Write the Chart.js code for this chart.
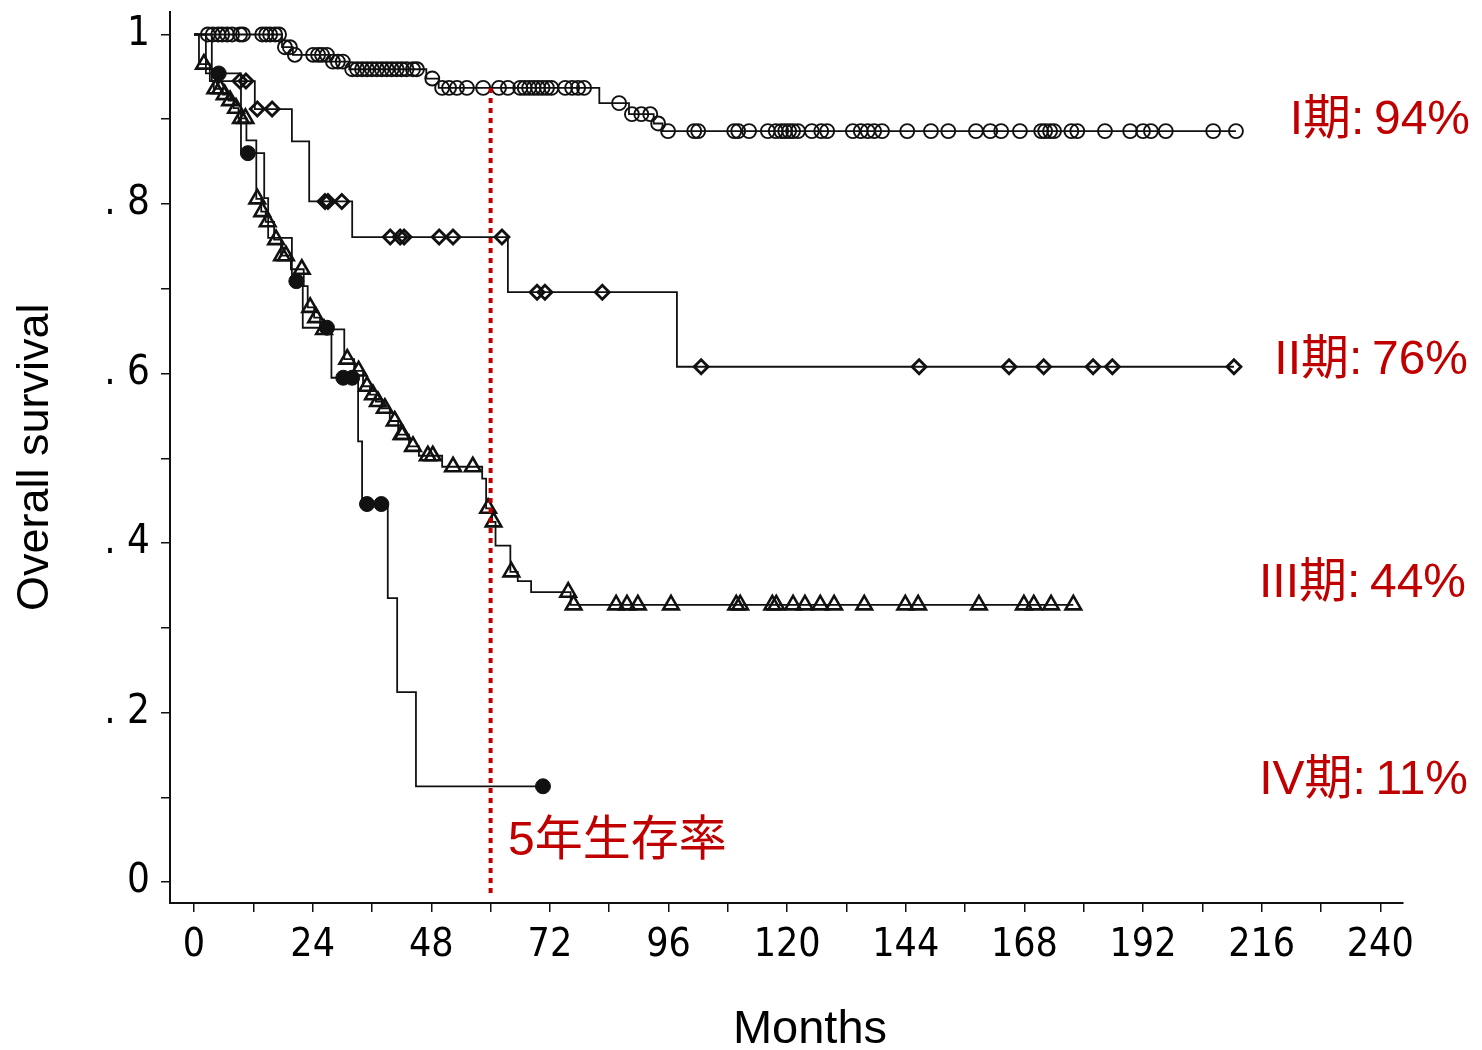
<!DOCTYPE html>
<html lang="ja">
<head>
<meta charset="utf-8">
<title>Overall survival by stage</title>
<script src="https://cdn.jsdelivr.net/npm/chart.js@4.4.1/dist/chart.umd.min.js"></script>
<style>
  html, body { margin: 0; padding: 0; background: #fff; }
  #wrap { width: 1482px; height: 1050px; }
</style>
</head>
<body>
<div id="wrap"><canvas id="survChart" width="1482" height="1050"></canvas></div>
<script>
/* Kaplan-Meier: sopravvivenza globale per stadio (I-IV) */

// asse x (mesi) e asse y (sopravvivenza)
const monthTicks = [0, 12, 24, 36, 48, 60, 72, 84, 96, 108, 120, 132, 144, 156, 168, 180, 192, 204, 216, 228, 240];
const monthLabels = ['0', '', '24', '', '48', '', '72', '', '96', '', '120', '', '144', '', '168', '', '192', '', '216', '', '240'];
const survTicks = [0, 0.1, 0.2, 0.3, 0.4, 0.5, 0.6, 0.7, 0.8, 0.9, 1];
const survLabels = ['0', '', '. 2', '', '. 4', '', '. 6', '', '. 8', '', '1'];

// stadio I: eventi (mese, sopravvivenza dopo l'evento) e censure
const stage1Times = [17.8, 20.0, 27.5, 31.4, 47.0, 49.5, 82.0, 88.0, 93.0, 94.8];
const stage1Surv = [0.985, 0.976, 0.968, 0.959, 0.948, 0.937, 0.919, 0.906, 0.895, 0.886];
const stage1Censor = [2.8, 3.8, 4.9, 5.7, 6.7, 7.7, 9.3, 9.9, 13.8, 14.6, 15.4, 16.4, 17.2, 18.4, 19.4, 20.4,
  24.1, 25.1, 25.9, 26.9, 28.1, 29.1, 30.1, 32.0, 33.0, 34.0, 35.0, 36.0, 37.0, 38.0, 39.0, 40.0, 41.0, 42.0,
  43.0, 44.3, 45.1, 48.2, 50.2, 51.6, 53.2, 55.2, 58.5, 61.7, 63.5, 66.0, 66.9, 67.8, 68.7, 69.6, 70.5, 71.4,
  72.3, 75.1, 76.5, 77.7, 78.9, 86.0, 88.6, 90.5, 92.3, 93.9, 95.9, 101.2, 102.0, 109.3, 110.1, 112.3, 116.1,
  117.7, 118.8, 119.6, 120.4, 121.2, 122.2, 125.0, 126.9, 128.1, 133.3, 134.9, 136.3, 137.6, 139.2, 144.3,
  149.1, 152.6, 158.2, 161.1, 163.3, 167.1, 171.4, 172.2, 173.2, 174.0, 177.5, 178.7, 184.3, 189.4, 192.0,
  193.6, 196.6, 206.2, 210.8];

// stadio II
const stage2Times = [3.6, 12.3, 19.8, 23.3, 32.0, 63.5, 97.7];
const stage2Surv = [0.945, 0.912, 0.874, 0.803, 0.761, 0.696, 0.608];
const stage2Censor = [9.3, 10.5, 12.8, 15.8, 26.5, 27.1, 29.9, 39.7, 41.7, 42.5, 49.6, 52.4, 62.3, 69.4, 71.0,
  82.6, 102.6, 146.7, 164.9, 171.9, 181.9, 185.8, 210.4];

// stadio III
const stage3Times = [1.0, 3.2, 4.0, 5.8, 7.0, 8.0, 9.0, 10.6, 12.6, 13.6, 14.5, 16.2, 17.6, 19.6, 22.2, 23.0,
  24.3, 25.5, 30.4, 32.4, 34.2, 35.6, 36.8, 38.0, 39.6, 41.3, 43.5, 45.5, 50.2, 58.3, 59.1, 60.3, 61.0, 64.0,
  65.5, 68.2, 76.2];
const stage3Surv = [0.965, 0.945, 0.936, 0.929, 0.922, 0.913, 0.901, 0.875, 0.806, 0.791, 0.779, 0.758, 0.739,
  0.723, 0.703, 0.678, 0.666, 0.652, 0.617, 0.603, 0.585, 0.575, 0.567, 0.559, 0.544, 0.528, 0.514, 0.503,
  0.490, 0.476, 0.441, 0.425, 0.397, 0.366, 0.355, 0.342, 0.327];
const stage3Censor = [2.0, 4.3, 5.3, 6.2, 7.3, 8.5, 9.5, 10.4, 12.8, 13.8, 14.9, 16.6, 17.8, 18.6, 21.8, 23.5,
  24.7, 26.3, 31.0, 33.3, 35.0, 36.2, 37.2, 38.6, 40.6, 42.0, 42.2, 44.3, 47.3, 48.3, 52.4, 56.4, 59.5, 60.6,
  64.2, 75.7, 76.8, 85.4, 87.6, 89.8, 96.5, 109.7, 110.5, 117.0, 117.8, 121.2, 123.6, 126.7, 129.5, 135.6,
  143.9, 146.5, 158.8, 167.9, 169.9, 173.4, 177.9];

// stadio IV
const stage4Times = [2.4, 9.5, 14.2, 15.0, 19.8, 22.0, 27.8, 33.2, 34.0, 39.2, 41.1, 44.9];
const stage4Surv = [0.954, 0.860, 0.807, 0.760, 0.709, 0.654, 0.595, 0.520, 0.446, 0.335, 0.224, 0.113];
const stage4Censor = [5.0, 10.9, 20.7, 26.9, 30.2, 32.0, 35.0, 37.9, 70.6];

// linea dei 5 anni
const fiveYearMonth = 60;
const fiveYearTop = 0.937;

const RED = '#c00000';
const INK = '#111';
const TICK_FONT = '"Liberation Sans Narrow", "DejaVu Sans Condensed", "Arial Narrow", sans-serif';
const TEXT_FONT = '"Liberation Sans", Arial, "Noto Sans CJK JP", sans-serif';

function levelAt(times, surv, t) {
  let s = 1;
  times.forEach((tt, i) => { if (tt <= t) s = surv[i]; });
  return s;
}

function stepData(times, surv, censor) {
  const end = Math.max(...censor);
  const pts = [{ x: 0, y: 1 }];
  times.forEach((t, i) => pts.push({ x: t, y: surv[i] }));
  pts.push({ x: end, y: surv[surv.length - 1] });
  return pts;
}

function censorData(times, surv, censor) {
  return censor.map(t => ({ x: t, y: levelAt(times, surv, t) }));
}

function curve(times, surv, censor) {
  return {
    type: 'line', data: stepData(times, surv, censor), stepped: 'before',
    borderColor: INK, borderWidth: 1.8, pointRadius: 0, fill: false
  };
}

function marks(times, surv, censor, style, radius, filled, bw) {
  return {
    type: 'scatter', data: censorData(times, surv, censor),
    pointStyle: style, pointRadius: radius, pointBorderWidth: bw,
    pointBorderColor: INK, pointBackgroundColor: filled ? INK : 'rgba(255,255,255,0)',
    showLine: false
  };
}

const notesPlugin = {
  id: 'notes',
  afterDraw(chart) {
    const ctx = chart.ctx;
    ctx.save();
    ctx.fillStyle = RED;
    ctx.font = `48px ${TEXT_FONT}`;
    ctx.textBaseline = 'alphabetic';
    ctx.textAlign = 'right';
    ctx.fillText('I期:\u200994%', 1470, 134);
    ctx.fillText('II期:\u200976%', 1468, 374);
    ctx.fillText('III期:\u200944%', 1466, 597);
    ctx.fillText('IV期:\u200911%', 1468, 794);
    ctx.textAlign = 'left';
    ctx.fillText('5年生存率', 508, 855);
    ctx.restore();
  }
};

const axisGrid = {
  display: true, drawOnChartArea: false, drawTicks: true,
  tickLength: 9, color: INK, lineWidth: 1.5
};

new Chart(document.getElementById('survChart'), {
  data: {
    datasets: [
      {
        type: 'line',
        data: [{ x: fiveYearMonth, y: fiveYearTop }, { x: fiveYearMonth, y: -0.016 }],
        borderColor: RED, borderWidth: 4, borderDash: [5, 5], pointRadius: 0, fill: false
      },
      marks(stage1Times, stage1Surv, stage1Censor, 'circle', 7, false, 1.9),
      marks(stage2Times, stage2Surv, stage2Censor, 'rectRot', 7, false, 2.8),
      marks(stage3Times, stage3Surv, stage3Censor, 'triangle', 9, false, 2.6),
      marks(stage4Times, stage4Surv, stage4Censor, 'circle', 7.5, true, 1),
      curve(stage1Times, stage1Surv, stage1Censor),
      curve(stage2Times, stage2Surv, stage2Censor),
      curve(stage3Times, stage3Surv, stage3Censor),
      curve(stage4Times, stage4Surv, stage4Censor)
    ]
  },
  options: {
    responsive: false,
    animation: false,
    layout: { padding: { top: 10, right: 79, bottom: 0, left: 0 } },
    plugins: { legend: { display: false }, tooltip: { enabled: false } },
    scales: {
      x: {
        type: 'linear', min: -4.86, max: 244.6,
        afterBuildTicks: s => { s.ticks = monthTicks.map(v => ({ value: v })); },
        afterFit: s => { s.height = 147; },
        grid: axisGrid,
        border: { display: true, color: INK, width: 2 },
        ticks: {
          autoSkip: false, maxRotation: 0, padding: 10, color: '#000',
          font: { family: TICK_FONT, size: 39 },
          callback: (v, i) => monthLabels[i]
        },
        title: {
          display: true, text: '\u2003Months', color: '#000',
          font: { family: TEXT_FONT, size: 47, lineHeight: 0.85 }, padding: { top: 0, bottom: 0 }
        }
      },
      y: {
        type: 'linear', min: -0.0247, max: 1.027,
        afterBuildTicks: s => { s.ticks = survTicks.map(v => ({ value: v })); },
        afterFit: s => { s.width = 170; s.paddingTop = 0; s.paddingBottom = 0; },
        grid: axisGrid,
        border: { display: true, color: INK, width: 2 },
        ticks: {
          autoSkip: false, padding: 11, color: '#000',
          font: { family: TICK_FONT, size: 40, lineHeight: 0.05 },
          callback: (v, i) => survLabels[i]
        },
        title: {
          display: true, text: 'Overall survival', color: '#000',
          font: { family: TEXT_FONT, size: 45, lineHeight: 1 }, padding: { top: 13, bottom: 0 }
        }
      }
    }
  },
  plugins: [notesPlugin]
});
</script>
</body>
</html>
